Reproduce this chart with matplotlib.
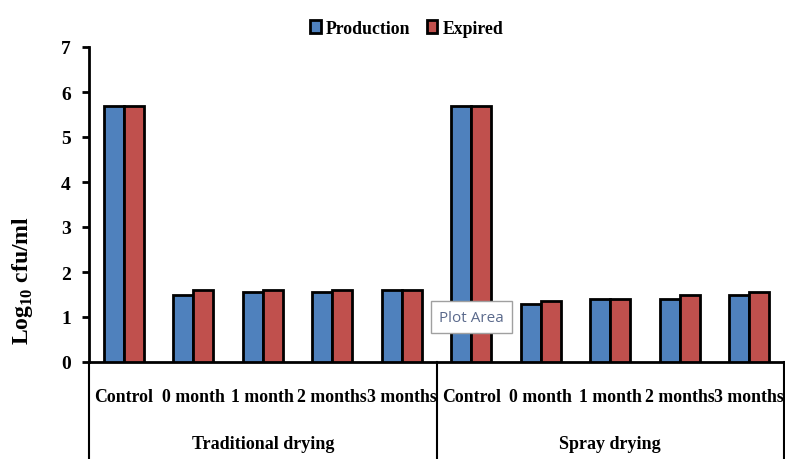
import matplotlib.pyplot as plt
import numpy as np

plt.rcParams["font.family"] = ["Liberation Serif", "DejaVu Serif"]
plt.rcParams["font.weight"] = "bold"
plt.rcParams["mathtext.fontset"] = "custom"
plt.rcParams["mathtext.rm"] = "Liberation Serif:bold"
plt.rcParams["mathtext.bf"] = "Liberation Serif:bold"

groups = ["Traditional drying", "Spray drying"]
periods = ["Control", "0 month", "1 month", "2 months", "3 months"]
production = [5.7, 1.5, 1.55, 1.55, 1.6, 5.7, 1.3, 1.4, 1.4, 1.5]
expired = [5.7, 1.6, 1.6, 1.6, 1.6, 5.7, 1.35, 1.4, 1.5, 1.55]

BLUE = "#4F81BD"
RED = "#C0504D"

fig = plt.figure(figsize=(7.85, 4.6), dpi=100)
ax = fig.add_axes([89 / 785, 1 - 363 / 460, 695 / 785, 315 / 460])

x = np.arange(len(production))
w = 0.29
ax.bar(x - w / 2, production, w, color=BLUE, edgecolor="black",
       linewidth=2, label="Production", zorder=3)
ax.bar(x + w / 2, expired, w, color=RED, edgecolor="black",
       linewidth=2, label="Expired", zorder=3)

ax.set_xlim(-0.5, len(production) - 0.5)
ax.set_ylim(0, 7)
ax.set_yticks(range(8))
ax.tick_params(axis="y", direction="out", length=5, width=2, labelsize=14, pad=8)
ax.set_xticks(x)
ax.set_xticklabels(periods * len(groups), fontsize=12.8)
ax.tick_params(axis="x", length=0, pad=19)

for side in ["top", "right"]:
    ax.spines[side].set_visible(False)
ax.spines["left"].set_linewidth(2)
ax.spines["bottom"].set_linewidth(2)

# group dividers reaching down to the bottom of the figure
trans = ax.get_xaxis_transform()
bottom = -(1 - 363 / 460) * 460 / 315
for xd in [-0.5, 4.5, 9.5]:
    ax.plot([xd, xd], [0, bottom], color="black", lw=1.5,
            transform=trans, clip_on=False)
for i, g in enumerate(groups):
    ax.text(i * 5 + 2, bottom + 0.05, g, transform=trans, ha="center",
            va="center", fontsize=13, fontweight="bold")

ax.set_ylabel(r"Log$_{10}$ cfu/ml", fontsize=17, fontweight="bold")
ax.yaxis.set_label_coords(-0.078, 0.263)

fig.legend(loc="upper center", bbox_to_anchor=(0.518, 0.99), ncol=2,
           frameon=False, fontsize=12.8, handlelength=0.6, handleheight=0.8,
           handletextpad=0.3, columnspacing=0.9)

fig.text(439 / 785, 1 - 318 / 460, "Plot Area", family="Open Sans",
         fontweight="normal", fontsize=11, color="#5B6A8C", va="center",
         ha="left",
         bbox=dict(boxstyle="square,pad=0.55", fc="white", ec="#A0A0A0", lw=1))

fig.savefig("out.png", dpi=100)
